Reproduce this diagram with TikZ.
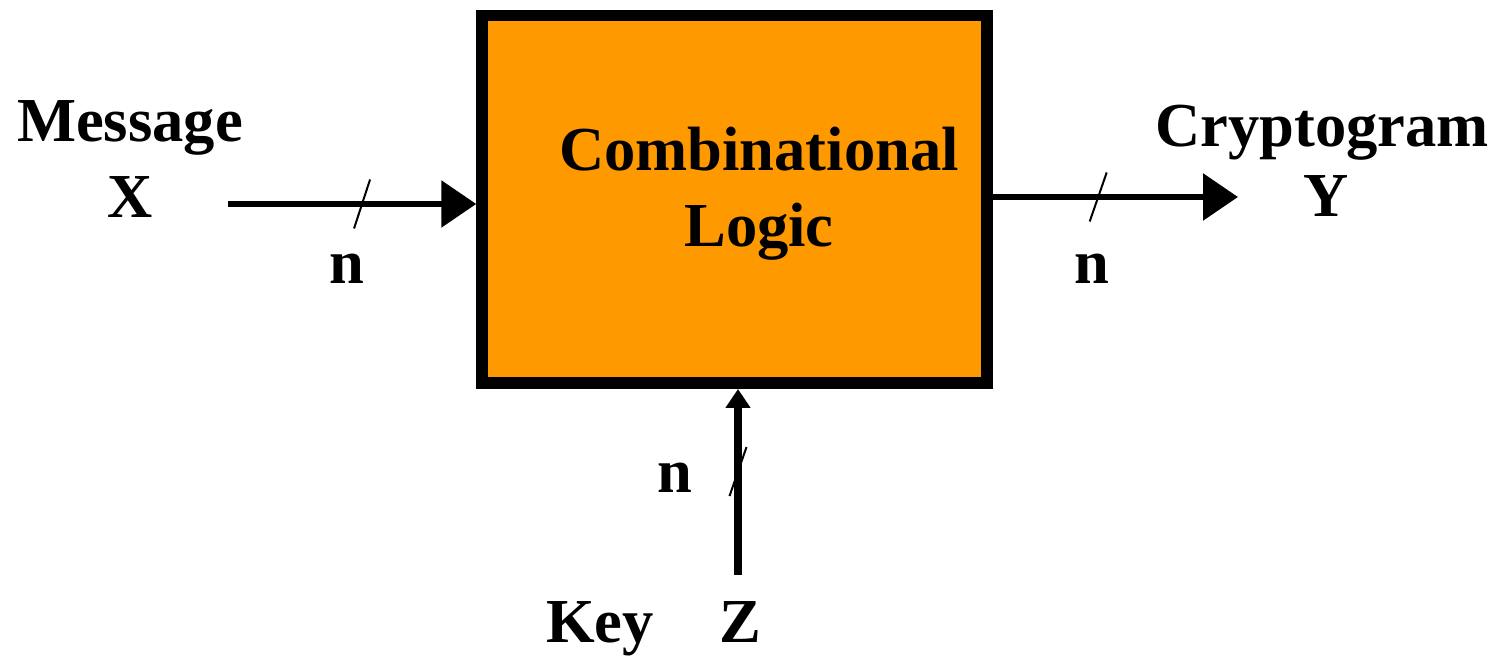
\documentclass[tikz,border=0pt]{standalone}
\usepackage{fontspec}
\setmainfont{Liberation Serif}
\usepackage{tikz}
\usetikzlibrary{arrows.meta,positioning,calc}
\definecolor{orange}{HTML}{FF9900}

\begin{document}
\begin{tikzpicture}[
  font=\bfseries\fontsize{17.8}{21.9}\selectfont,
  logic/.style={draw=black,fill=orange,line width=1.15mm,minimum width=5.05cm,minimum height=3.675cm},
  lbl/.style={anchor=base,inner sep=0pt},
  arr/.style={line width=0.6mm,-{Triangle[length=3.5mm,width=4.6mm]}},
  keyarr/.style={line width=0.75mm,-{Triangle[length=1.9mm,width=2.4mm]}},
  slash/.style={line width=0.2mm}
]
\useasboundingbox (0,0) rectangle (15.03,6.56);
\node[logic] (box) at (7.345,4.565) {};
\node[lbl,align=center] (name) at (7.59,4.09) {Combinational\\Logic};
% inputs and output
\node[lbl] (msg) at (1.30,5.14) {Message};
\node[lbl] (x) at (1.30,4.38) {X};
\node[lbl] (crypt) at (13.22,5.09) {Cryptogram};
\node[lbl] (y) at (13.26,4.39) {Y};
\node[lbl] (key) at (6.00,0.13) {Key};
\node[lbl] (z) at (7.40,0.13) {Z};
\coordinate (xin) at (2.28,4.52);
\coordinate (yout) at (12.38,4.59);
\coordinate (zin) at (7.38,0.81);
\draw[arr] (xin) -- coordinate[pos=0.54] (xbus) (xin -| box.west);
\draw[arr] (box.east |- yout) -- coordinate[pos=0.43] (ybus) (yout);
\draw[keyarr] (zin) -- coordinate[pos=0.556] (zbus) (zin |- box.south);
% bus width marks
\draw[slash] (xbus) +(-0.08,-0.245) -- +(0.08,0.245);
\draw[slash] (ybus) +(-0.085,-0.245) -- +(0.085,0.245);
\draw[slash] (zbus) +(-0.085,-0.245) -- +(0.085,0.245);
\node[lbl] (nx) at (3.47,3.72) {n};
\node[lbl] (ny) at (10.92,3.72) {n};
\node[lbl] (nz) at (6.75,1.63) {n};
\end{tikzpicture}
\end{document}
